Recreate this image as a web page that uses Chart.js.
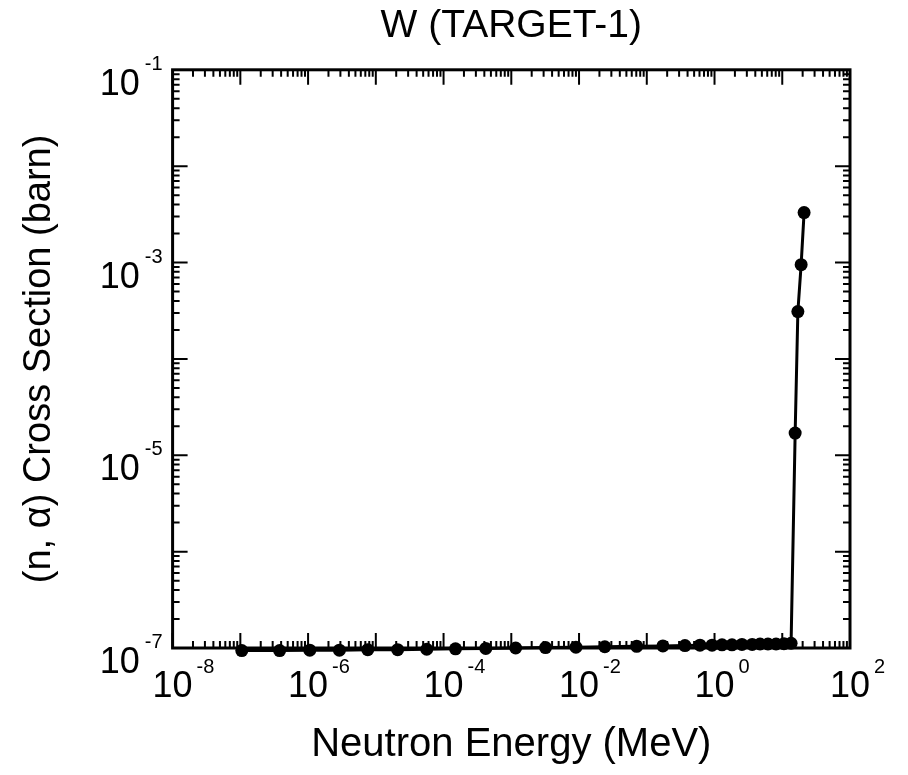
<!DOCTYPE html>
<html>
<head>
<meta charset="utf-8">
<script src="https://cdn.jsdelivr.net/npm/chart.js@4/dist/chart.umd.min.js"></script>
<style>
	html, body { margin: 0; padding: 0; background: #fff; }
	#wrap { width: 908px; height: 775px; }
</style>
</head>
<body>
<div id="wrap"><canvas id="chart" width="908" height="775"></canvas></div>
<script>
// neutron energy (MeV) and (n,alpha) cross section (barn)
const energy = [
	1.05e-7, 3.8e-7, 1.06e-6, 2.9e-6, 7.6e-6, 2.1e-5, 5.65e-5, 1.5e-4, 4.2e-4,
	1.16e-3, 3.2e-3, 9e-3, 2.4e-2, 7.1e-2, 0.173, 0.366, 0.61, 0.92, 1.29, 1.81,
	2.54, 3.6, 4.7, 6.15, 8.1, 10.6, 13.5, 15.5, 17, 19, 21,
];
const crossSection = [
	0.94e-7, 0.94e-7, 0.95e-7, 0.95e-7, 0.96e-7, 0.96e-7, 0.97e-7, 0.98e-7, 0.99e-7,
	1.0e-7, 1.01e-7, 1.02e-7, 1.03e-7, 1.04e-7, 1.05e-7, 1.06e-7, 1.07e-7, 1.07e-7, 1.08e-7, 1.08e-7,
	1.09e-7, 1.09e-7, 1.1e-7, 1.1e-7, 1.1e-7, 1.11e-7, 1.12e-7, 1.7e-5, 3.1e-4, 9.5e-4, 3.3e-3,
];

const xTickExps = [-8, -6, -4, -2, 0, 2];
const yTickExps = [-1, -3, -5, -7];

const titleText = 'W (TARGET-1)';
const xTitle = 'Neutron Energy (MeV)';
const yTitle = '(n, \u03b1) Cross Section (barn)';

const FONT = '"Liberation Sans", Arial, Helvetica, sans-serif';

function expLabel(e) {
	return e < 0 ? '-' + Math.abs(e) : String(e);
}

// frame, inward ticks on all sides and 10^n labels
const framePlugin = {
	id: 'frame',
	afterDraw(chart) {
		const { ctx, chartArea: a, scales } = chart;
		const xs = scales.x;
		const ys = scales.y;
		ctx.save();
		ctx.strokeStyle = '#000';
		ctx.lineWidth = 2;
		ctx.beginPath();
		for (let d = -8; d < 2; d++) {
			for (let k = 1; k <= 9; k++) {
				const px = xs.getPixelForValue(k * Math.pow(10, d));
				const len = k == 1 ? 15 : 7;
				ctx.moveTo(px, a.bottom);
				ctx.lineTo(px, a.bottom - len);
				ctx.moveTo(px, a.top);
				ctx.lineTo(px, a.top + len);
			}
		}
		for (let d = -7; d < -1; d++) {
			for (let k = 1; k <= 9; k++) {
				const py = ys.getPixelForValue(k * Math.pow(10, d));
				const len = k == 1 ? 15 : 7;
				ctx.moveTo(a.left, py);
				ctx.lineTo(a.left + len, py);
				ctx.moveTo(a.right, py);
				ctx.lineTo(a.right - len, py);
			}
		}
		ctx.stroke();

		ctx.lineWidth = 3;
		ctx.strokeRect(a.left, a.top, a.right - a.left, a.bottom - a.top);

		ctx.fillStyle = '#000';
		ctx.textBaseline = 'alphabetic';
		xTickExps.forEach((e) => {
			const px = xs.getPixelForValue(Math.pow(10, e));
			ctx.font = '36px ' + FONT;
			ctx.textAlign = 'center';
			ctx.fillText('10', px, a.bottom + 49);
			const w = ctx.measureText('10').width;
			ctx.font = '20px ' + FONT;
			ctx.textAlign = 'left';
			ctx.fillText(expLabel(e), px + w / 2 + 4, a.bottom + 25);
		});
		yTickExps.forEach((e) => {
			const py = ys.getPixelForValue(Math.pow(10, e));
			ctx.font = '20px ' + FONT;
			ctx.textAlign = 'right';
			const lab = expLabel(e);
			ctx.fillText(lab, a.left - 10, py);
			const ew = ctx.measureText(lab).width;
			ctx.font = '36px ' + FONT;
			ctx.fillText('10', a.left - 10 - ew - 5, py + 25);
		});
		ctx.restore();
	},
};

const data = {
	datasets: [
		{
			data: energy.map((v, i) => ({ x: v, y: crossSection[i] })),
			borderColor: '#000',
			backgroundColor: '#000',
			borderWidth: 3,
			pointRadius: 6.5,
			pointBackgroundColor: '#000',
			pointBorderWidth: 0,
			clip: false,
			tension: 0,
		},
	],
};

const options = {
	responsive: false,
	animation: false,
	devicePixelRatio: 1,
	layout: {
		padding: { top: 0, right: 58, bottom: 0, left: 0 },
	},
	scales: {
		x: {
			type: 'logarithmic',
			min: 1e-8,
			max: 1e2,
			ticks: { display: false },
			grid: { display: false, drawTicks: false },
			border: { display: false },
			title: {
				display: true,
				text: xTitle,
				color: '#000',
				font: { family: FONT, size: 40 },
				padding: { top: 73, bottom: 6 },
			},
		},
		y: {
			type: 'logarithmic',
			min: 1e-7,
			max: 1e-1,
			ticks: { display: false },
			grid: { display: false, drawTicks: false },
			border: { display: false },
			title: {
				display: true,
				text: yTitle,
				color: '#000',
				font: { family: FONT, size: 38 },
				padding: { top: 17, bottom: 110 },
			},
		},
	},
	plugins: {
		legend: { display: false },
		tooltip: { enabled: false },
		title: {
			display: true,
			text: titleText,
			fullSize: false,
			color: '#000',
			font: { family: FONT, size: 39, weight: 'normal' },
			padding: { top: 3, bottom: 20 },
		},
	},
};

new Chart(document.getElementById('chart'), {
	type: 'line',
	data,
	options,
	plugins: [framePlugin],
});
</script>
</body>
</html>
